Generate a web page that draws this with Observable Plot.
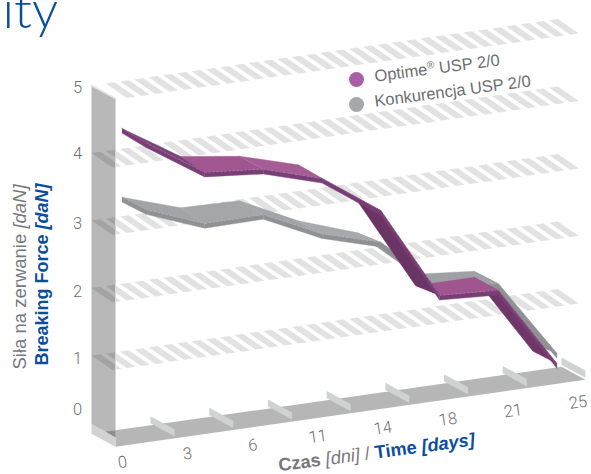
<!DOCTYPE html>
<html><head><meta charset="utf-8">
<script src="https://cdn.jsdelivr.net/npm/d3@7"></script>
<script src="https://cdn.jsdelivr.net/npm/@observablehq/plot@0.6"></script>
<style>html,body{margin:0;padding:0;background:#fff;overflow:hidden}svg{display:block}</style>
</head><body><div id="chart"></div>
<script>
const xTickLabels = ["0","3","6","11","14","18","21","25"];
const yTickLabels = ["5","4","3","2","1","0"];
const yTickAt = [4.97,3.99,2.95,1.95,0.95,0.2];
const gridForces = [5,4,3,2,1];
const optimeBack  = [4.30,3.76,3.64,3.39,2.74,1.35,1.35,0.13];
const optimeFront = [4.28,3.72,3.64,3.38,2.78,1.40,1.35,0.14];
const rivalBack   = [3.28,3.00,2.98,2.56,2.26,1.52,1.44,0.24];
const rivalFront  = [3.29,2.96,2.97,2.56,2.31,1.52,1.45,0.29];
const optimeShades = ["#7b3f79","#a1568f","#a65d96","#7d4079","#6a3565","#a0558f","#6f3769"];
const rivalShades  = ["#a3a4a7","#a5a6a9","#a3a4a7","#a8a9ac","#98999c","#a0a1a4","#919295"];
const optimeFace = "#7a3e76", rivalFace = "#909194";

const K = 0.124, DX = 24/58.7, DV = 13/67.5, W = -0.52;
const P = (i,f,d=0) => ({u:i+d*DX, v:f+(i-W)*K-d*DV});
const poly = (pts,fill,extra={}) => Plot.line(pts,{x:"u",y:"v",fill,stroke:"none",...extra});

const stripes = [];
for (const f of gridForces) for (let k=(f===5?1:0);k<=32;k++){
  const i=W+k*14.3/58.7, id=f+"-"+k, w=0.15, dx=21/58.7, dv=14.5/67.5;
  const s=(ii,dd)=>({u:ii+(dd?dx:0),v:f+(ii-W)*K-(dd?dv:0),id});
  stripes.push(s(i,0),s(i+w,0),s(i+w,1),s(i,1));
}
const tabRows = [];
xTickLabels.forEach((_,k)=>{const i=k+0.486,id=k;
  tabRows.push({...P(i,-0.024,0),id},{...P(i,-0.024,1),id},{...P(i,-0.13,1),id},{...P(i,-0.13,0),id});});

function ribbon(back,front,shades,face,thick){
  const marks=[];
  for(let s=back.length-2;s>=0;s--){
    const a=P(s,back[s],0),b=P(s+1,back[s+1],0),c=P(s+1,front[s+1],1),d=P(s,front[s],1);
    marks.push(poly([a,b,c,d],shades[s],{stroke:shades[s],strokeWidth:0.4}));
    const c2=P(s+1,front[s+1]-thick,1),d2=P(s,front[s]-thick,1);
    marks.push(poly([d,c,c2,d2],face,{stroke:face,strokeWidth:0.4}));
    marks.push(Plot.line([d,c],{x:"u",y:"v",stroke:"#fff",strokeOpacity:0.3,strokeWidth:0.6,strokeDasharray:"2 2"}));
  }
  const a0=P(0,back[0],0),d0=P(0,front[0],1);
  marks.push(poly([a0,d0,P(0,front[0]-thick,1),P(0,back[0]-thick,0)],face,{stroke:face,strokeWidth:0.4}));
  return marks;
}

const labelRows = xTickLabels.map((t,k)=>{const i=k*1.1085+0.01;return {t,u:i,v:-0.65+(i-W)*K-i*0.0095};});
const lightFont = "Roboto, 'Liberation Sans', sans-serif";
const sansFont = "'Liberation Sans', Arial, sans-serif";
const note = (text,dx,dy,o={}) => Plot.text([text],{text:d=>d,frameAnchor:"top-left",dx,dy,textAnchor:"start",lineAnchor:"middle",fontFamily:sansFont,...o});

const plot = Plot.plot({
  width:591,height:474,margin:0,
  x:{domain:[-121.5/58.7,(591-121.5)/58.7],range:[0,591],axis:null},
  y:{domain:[5+85/67.5,5-389/67.5],range:[0,474],axis:null},
  style:{background:"#fff",overflow:"hidden"},
  marks:[
    Plot.line(stripes,{x:"u",y:"v",z:"id",fill:"#000",fillOpacity:0.115,stroke:"none"}),
    poly([P(W,5,0),P(W,5,1),P(W,-0.02,1),P(W,-0.02,0)],"#000",{fillOpacity:0.28}),
    Plot.line([P(W,5,0),P(W,5,1)],{x:"u",y:"v",stroke:"#e4e4e4",strokeWidth:1.6}),
    Plot.line([P(W,5,1),P(W,0,1)],{x:"u",y:"v",stroke:"#d9d9d9",strokeWidth:1}),
    poly([P(-0.11,-0.16,0),P(7.487,-0.16,0),P(7.487,-0.16,1),P(W,-0.16,1)],"#b6b6b6"),
    poly([P(W,-0.02,0),P(W,-0.02,1),P(W,-0.16,1),P(W,-0.16,0)],"#d2d2d2"),
    poly([{u:(105-121.5)/58.7,v:5-346/67.5},{u:-0.11,v:5-345/67.5},{u:-0.11,v:5-352/67.5}],"#8e8e8e"),
    Plot.line(tabRows,{x:"u",y:"v",z:"id",fill:"#d0d1d1",stroke:"none"}),
    ...ribbon(rivalBack,rivalFront,rivalShades,rivalFace,0.07),
    ...ribbon(optimeBack,optimeFront,optimeShades,optimeFace,0.07),
    Plot.text(labelRows,{x:"u",y:"v",text:"t",rotate:-8,fontSize:16.5,fontWeight:300,fontFamily:lightFont,fill:"#6f7072"}),
    Plot.text(yTickLabels,{text:d=>d,x:()=>(77-121.5)/58.7,y:(d,j)=>yTickAt[j],fontSize:16.5,fontWeight:300,fontFamily:lightFont,fill:"#6f7072"}),
    Plot.dot([0],{frameAnchor:"top-left",dx:356,dy:79,r:7.5,fill:"#a95fa6",stroke:"none"}),
    Plot.dot([0],{frameAnchor:"top-left",dx:356,dy:104,r:7.5,fill:"#a7a8aa",stroke:"none"}),
    note("Optime® USP 2/0",374,76,{rotate:-7.5,fontSize:16.5,fill:"#6d6e71"}),
    note("Konkurencja USP 2/0",374,101,{rotate:-7.5,fontSize:16.5,fill:"#6d6e71"}),
    note("Siła na zerwanie [daN]",20,369,{rotate:-90,fontSize:18.5,fill:"#77787b"}),
    note("Breaking Force [daN]",42,365,{rotate:-90,fontSize:18,fontWeight:"bold",fill:"#0b4f9c"}),
    note("Czas [dni] / Time [days]",278,465,{rotate:-7.5,fontSize:18.2,fill:"#77787b"}),
    note("ity",2,27,{lineAnchor:"bottom",fontSize:52,fontWeight:300,fontFamily:"Lato, Roboto, sans-serif",fill:"#0b4f9c"})
  ]
});

function rich(whole,parts){
  d3.select(plot).selectAll("text").filter(function(){return this.textContent===whole;}).each(function(){
    const t=d3.select(this); t.text(null);
    for(const p of parts){const s=t.append("tspan").text(p.t);
      for(const k of Object.keys(p)) if(k!=="t") s.attr(k,p[k]);}
  });
}
rich("Optime® USP 2/0",[{t:"Optime"},{t:"®","font-size":10,dy:-6},{t:" USP 2/0",dy:6}]);
rich("Siła na zerwanie [daN]",[{t:"Siła na zerwanie "},{t:"[daN]","font-style":"italic"}]);
rich("Breaking Force [daN]",[{t:"Breaking Force "},{t:"[daN]","font-style":"italic"}]);
rich("Czas [dni] / Time [days]",[{t:"Czas ","font-weight":"bold"},{t:"[dni]","font-style":"italic"},{t:" / "},{t:"Time ",fill:"#0b4f9c","font-weight":"bold"},{t:"[days]",fill:"#0b4f9c","font-weight":"bold","font-style":"italic"}]);
document.getElementById("chart").appendChild(plot);
</script></body></html>
